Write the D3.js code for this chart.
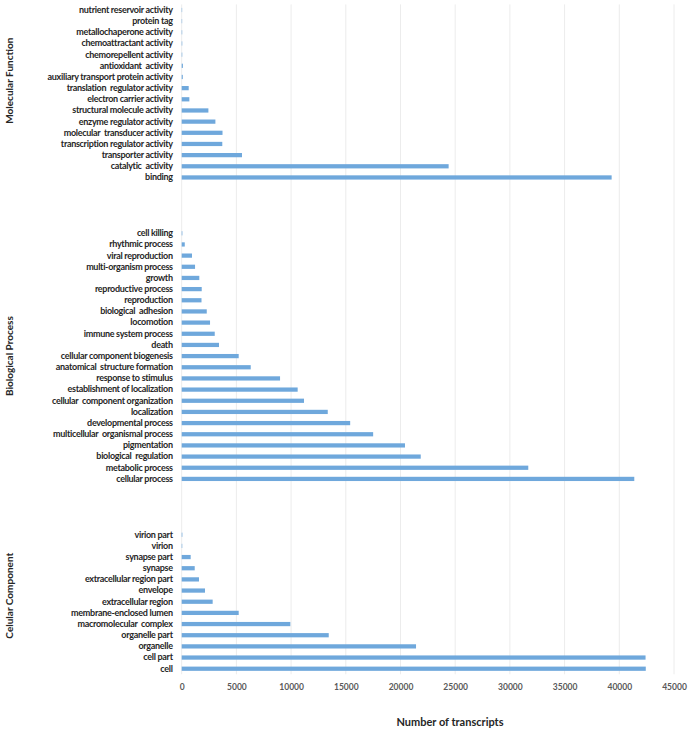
<!DOCTYPE html>
<html><head><meta charset="utf-8">
<script src="https://cdn.jsdelivr.net/npm/d3@7"></script>
<style>
body{margin:0;background:#fff;}
svg{display:block;}
</style></head>
<body>
<svg id="chart" width="689" height="730"></svg>
<script>
const groups = ["Molecular Function", "Biological Process", "Celular Component"];

const mfCategories = ["nutrient reservoir activity","protein tag","metallochaperone activity","chemoattractant activity","chemorepellent activity","antioxidant  activity","auxiliary transport protein activity","translation  regulator activity","electron carrier activity","structural molecule activity","enzyme regulator activity","molecular  transducer activity","transcription regulator activity","transporter activity","catalytic  activity","binding"];
const mfValues = [40,40,45,50,50,110,100,640,700,2440,3080,3730,3710,5510,24400,39300];

const bpCategories = ["cell killing","rhythmic process","viral reproduction","multi-organism process","growth","reproductive process","reproduction","biological  adhesion","locomotion","immune system process","death","cellular component biogenesis","anatomical  structure formation","response to stimulus","establishment of localization","cellular  component organization","localization","developmental process","multicellular  organismal process","pigmentation","biological  regulation","metabolic process","cellular process"];
const bpValues = [60,280,940,1220,1610,1830,1810,2290,2590,3020,3410,5210,6310,8990,10600,11180,13350,15400,17500,20410,21850,31680,41370];

const ccCategories = ["virion part","virion","synapse part","synapse","extracellular region part","envelope","extracellular region","membrane-enclosed lumen","macromolecular  complex","organelle part","organelle","cell part","cell"];
const ccValues = [60,50,820,1190,1580,2130,2830,5210,9930,13440,21420,42400,42420];

const xTicks = [0,5000,10000,15000,20000,25000,30000,35000,40000,45000];
const xTitle = "Number of transcripts";

(function(){
const sets = [[mfCategories, mfValues],[bpCategories, bpValues],[ccCategories, ccValues]];
const rows = [];
sets.forEach((s, gi) => {
  s[0].forEach((c, i) => rows.push({id: gi + "_" + i, label: c, value: s[1][i], group: gi}));
  if (gi < sets.length - 1) for (let k = 0; k < 4; k++) rows.push({id: "gap" + gi + "_" + k, label: "", value: null, group: -1});
});

const svg = d3.select("#chart");
const pLeft = 181.7, pRight = 674, pTop = 4.4, pBottom = 674.3;

const x = d3.scaleLinear().domain([0, 45000]).range([pLeft, pRight]);
const y = d3.scaleBand().domain(rows.map(r => r.id)).range([pTop, pBottom]).paddingInner(0.62).paddingOuter(0.31);

svg.append("g").selectAll("line").data(xTicks).join("line")
  .attr("x1", d => x(d)).attr("x2", d => x(d))
  .attr("y1", pTop).attr("y2", pBottom)
  .attr("stroke", "#ececec").attr("stroke-width", 1);

svg.append("g").selectAll("rect").data(rows.filter(r => r.value !== null)).join("rect")
  .attr("x", x(0))
  .attr("y", d => y(d.id))
  .attr("width", d => x(d.value) - x(0))
  .attr("height", y.bandwidth())
  .attr("fill", "#6fa8dc");

const labelMap = new Map(rows.map(r => [r.id, r.label]));
const yAxis = svg.append("g").attr("transform", `translate(${pLeft},0)`)
  .call(d3.axisLeft(y).tickSize(0).tickPadding(9).tickFormat(id => labelMap.get(id)));
yAxis.select(".domain").remove();
yAxis.selectAll("text")
  .attr("font-family", "Lato, 'Open Sans', sans-serif")
  .attr("font-weight", "bold")
  .attr("font-size", "9px")
  .attr("letter-spacing", "-0.3px")
  .attr("fill", "#262626")
  .style("white-space", "pre");

const xAxis = svg.append("g").attr("transform", `translate(0,${pBottom})`)
  .call(d3.axisBottom(x).tickValues(xTicks).tickSize(0).tickPadding(10).tickFormat(d3.format("d")));
xAxis.select(".domain").remove();
xAxis.selectAll("text")
  .attr("font-family", "Lato, 'Open Sans', sans-serif")
  .attr("font-weight", "bold")
  .attr("font-size", "8.5px")
  .attr("fill", "#595959");

svg.append("text")
  .attr("x", 450).attr("y", 726)
  .attr("text-anchor", "middle")
  .attr("font-family", "Lato, 'Open Sans', sans-serif")
  .attr("font-weight", "bold")
  .attr("font-size", "11px")
  .attr("fill", "#262626")
  .text(xTitle);

const groupOffsets = [-13, 0, -6];
groups.forEach((g, gi) => {
  const ids = rows.filter(r => r.group === gi).map(r => r.id);
  const cy = (y(ids[0]) + y(ids[ids.length - 1]) + y.bandwidth()) / 2 + groupOffsets[gi];
  svg.append("text")
    .attr("transform", `translate(13,${cy}) rotate(-90)`)
    .attr("text-anchor", "middle")
    .attr("font-family", "Lato, 'Open Sans', sans-serif")
    .attr("font-weight", "bold")
    .attr("font-size", "10px")
    .attr("fill", "#262626")
    .text(g);
});
})();
</script>
</body></html>
